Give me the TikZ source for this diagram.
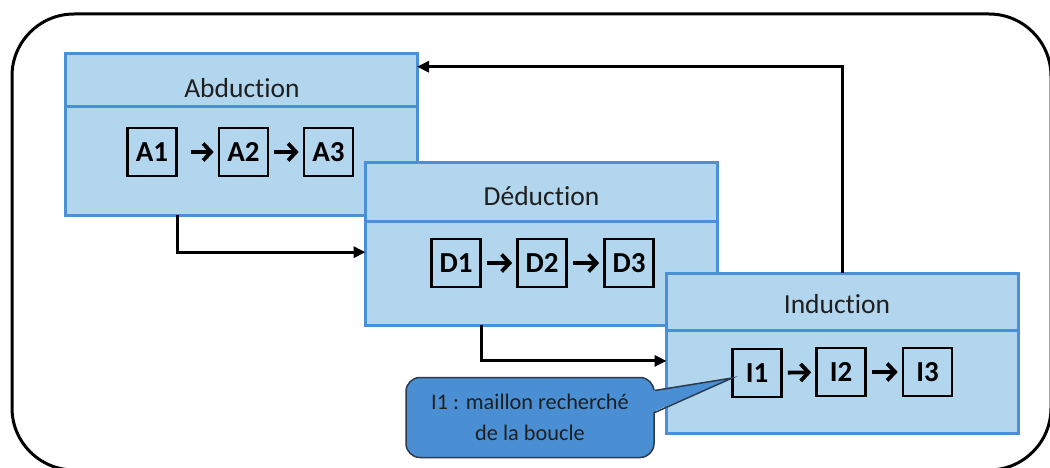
\documentclass[tikz,border=0pt]{standalone}
\usepackage{fontspec}
\setmainfont{Carlito}[Ligatures=NoCommon]
\usetikzlibrary{arrows.meta,calc}
\definecolor{boxfill}{HTML}{B3D6EF}
\definecolor{boxline}{HTML}{4A90D9}
\definecolor{notefill}{HTML}{4A8FD4}
\definecolor{noteline}{HTML}{2B3A4E}

\begin{document}
\begin{tikzpicture}[x=1pt,y=-1pt,
  frame/.style={draw=black, line width=3pt, rounded corners=62pt},
  stagehead/.style={draw=boxline, fill=boxfill, line width=3pt,
    minimum width=352pt, inner sep=0pt, outer sep=0pt},
  stagebody/.style={stagehead},
  stagetitle/.style={font=\fontsize{27.5}{32}\selectfont, text=black!88, inner sep=0pt},
  item/.style={draw=black, line width=2.6pt, minimum width=49pt, minimum height=48pt,
    inner sep=0pt, font=\bfseries\fontsize{29}{32}\selectfont},
  chain/.style={line width=3.8pt, -{Straight Barb[length=8pt,width=17pt]},
    shorten <=5pt, shorten >=4pt},
  conn/.style={line width=3pt, -{Triangle[length=12pt,width=11pt]}},
  note/.style={draw=noteline, fill=notefill, line width=1.5pt, rounded corners=14pt,
    minimum width=248pt, minimum height=80pt, inner sep=0pt, align=center,
    font=\fontsize{22.3}{31}\selectfont, text=black!88}
]
\useasboundingbox (0,0) rectangle (1050,468);

% outer frame
\draw[frame] (12,14) rectangle (1051,470);

% Abduction stage
\node[stagehead, minimum height=53pt] (abdH) at (241,80.5) {};
\node[stagebody, minimum height=108pt] (abdB) at (241,161) {};
\node[stagetitle] (abdT) at (242,88) {Abduction};
\node[item] (A1) at (152,152) {A1};
\node[item] (A2) at (243.5,152) {A2};
\node[item] (A3) at (328.5,152) {A3};
\draw[chain, shorten <=13pt] (A1) -- (A2);
\draw[chain] (A2) -- (A3);

% Deduction stage
\node[stagehead, minimum height=58pt] (dedH) at (541.5,192) {};
\node[stagebody, minimum height=104pt] (dedB) at (541.5,273) {};
\node[stagetitle] (dedT) at (541.5,196) {Déduction};
\node[item] (D1) at (456,263) {D1};
\node[item] (D2) at (542,263) {D2};
\node[item] (D3) at (629,263) {D3};
\draw[chain] (D1) -- (D2);
\draw[chain] (D2) -- (D3);

% Induction stage
\node[stagehead, minimum height=57pt] (indH) at (842.5,301.5) {};
\node[stagebody, minimum height=103pt] (indB) at (842.5,381.5) {};
\node[stagetitle] (indT) at (837,304) {Induction};
\node[item] (I1) at (757,373) {I1};
\node[item] (I2) at (841,372) {I2};
\node[item] (I3) at (927.5,372) {I3};
\draw[chain] (I1) -- (I2);
\draw[chain] (I2) -- (I3);

% links between the stages
\draw[conn] (A1.east |- abdB.south) |- ($(dedB.north west)!0.3!(dedB.south west)$);
\draw[conn] (D1.east |- dedB.south) |- ($(indB.north west)!0.3!(indB.south west)$);
\draw[conn] (indH.north) |- ($(abdH.north east)!0.24!(abdH.south east)$);

% callout on I1
\node[note] (note) at (530,417.5) {I1 : maillon recherché\\de la boucle};
\coordinate (tip) at ($(I1.west)+(1,5)$);
\fill[notefill] ($(note.east)+(-3,-27)$) -- (tip) -- ($(note.east)+(-3,-5)$) -- cycle;
\draw[noteline, line width=1.5pt, line join=miter]
  ($(note.east)+(0,-27)$) -- (tip) -- ($(note.east)+(0,-5)$);
\end{tikzpicture}
\end{document}
